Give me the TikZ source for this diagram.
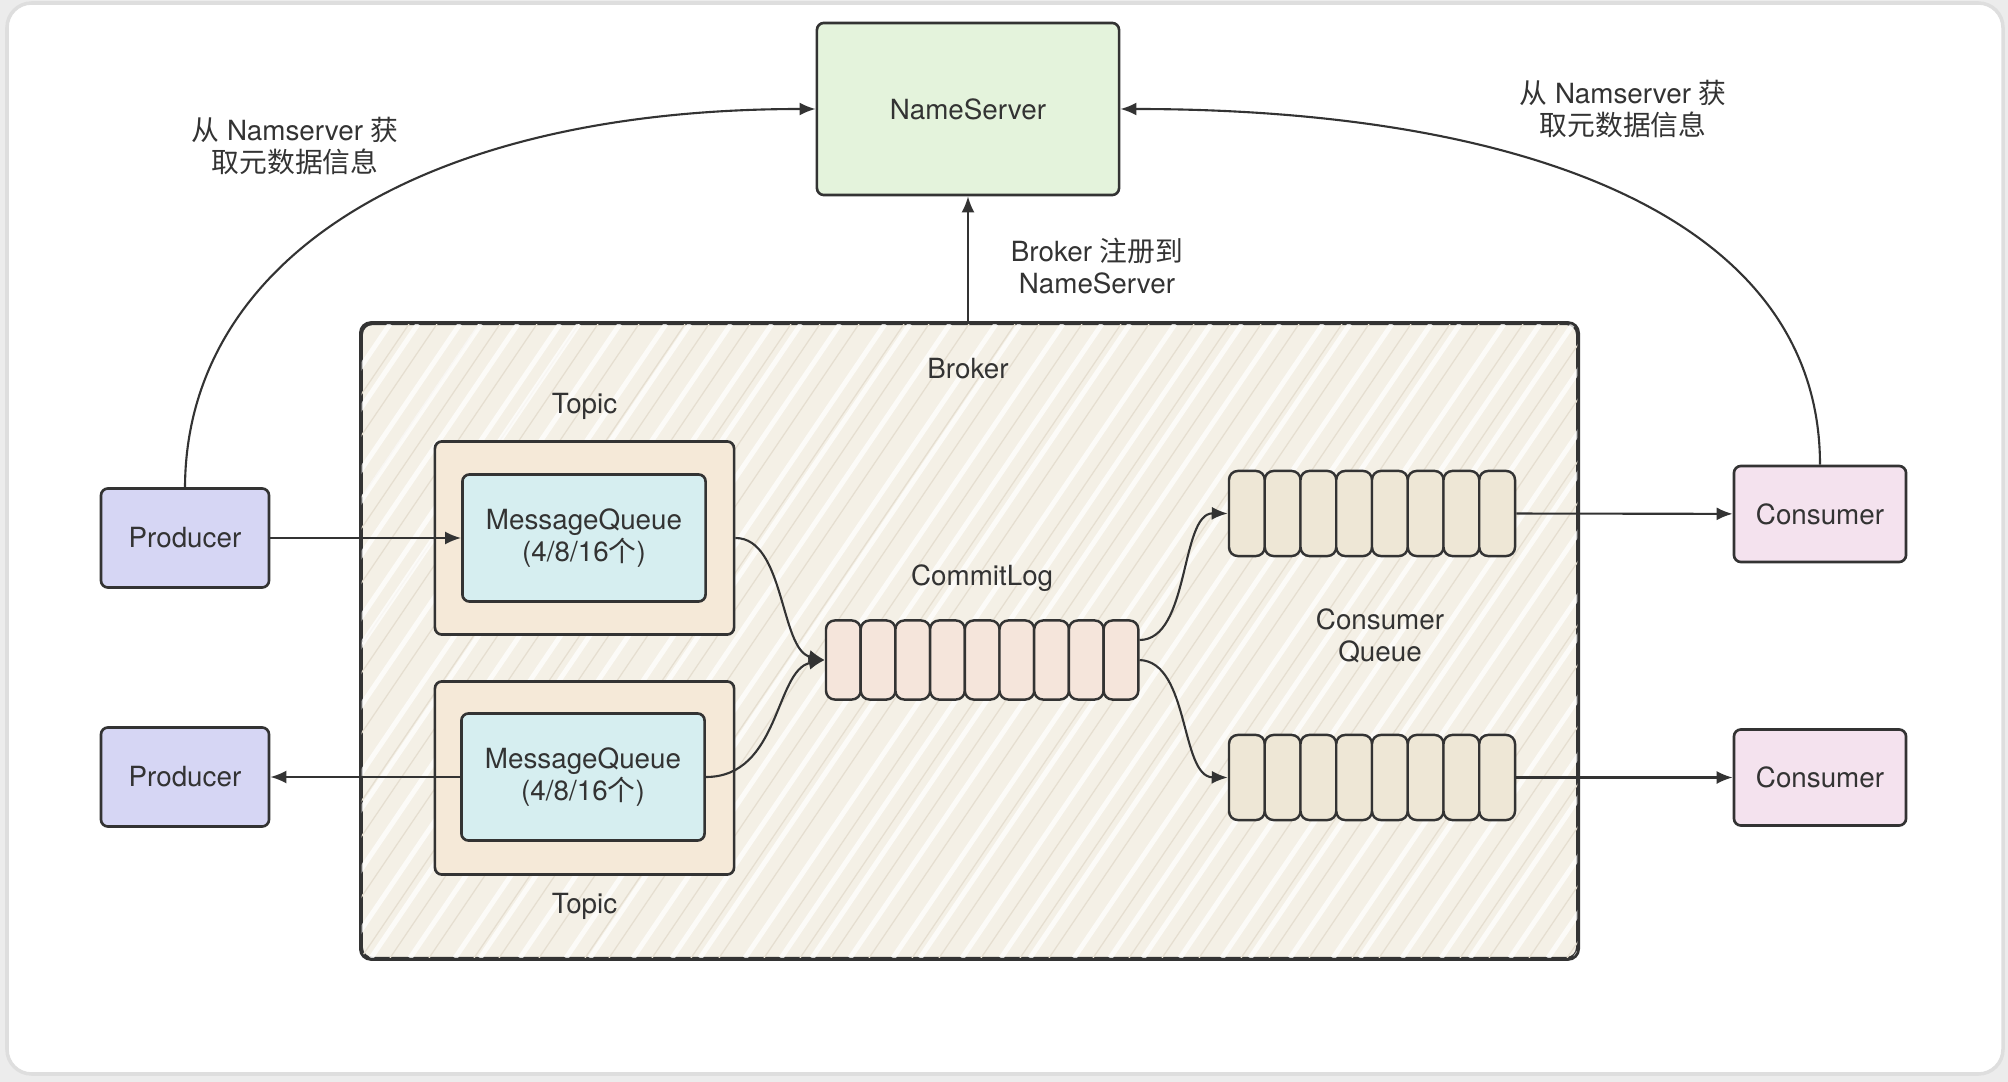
\documentclass[tikz,border=0pt]{standalone}
\usepackage{fontspec}
\setmainfont{TeX Gyre Heros}
\newfontfamily\cjk{Noto Sans CJK SC}
\usetikzlibrary{arrows.meta,positioning,calc}
\definecolor{ink}{HTML}{333333}
\definecolor{nsbg}{HTML}{E4F3DC}
\definecolor{prodbg}{HTML}{D6D6F4}
\definecolor{consbg}{HTML}{F4E2EE}
\definecolor{mqbg}{HTML}{D6EEF0}
\definecolor{topicbg}{HTML}{F5E9D8}
\definecolor{brokerbg}{HTML}{F4F0E6}
\definecolor{logbg}{HTML}{F5E5DB}
\definecolor{cqbg}{HTML}{EEE7D6}
\definecolor{hatch}{HTML}{E5DED0}
\definecolor{pagebg}{HTML}{ECECEC}
\definecolor{cardrule}{HTML}{DEDEDE}

\begin{document}
\begin{tikzpicture}[
  x=0.01cm, y=-0.01cm,
  font=\fontsize{7.9}{9.3}\selectfont, text=ink,
  box/.style={draw=ink, line width=0.75pt, rounded corners=2pt, align=center, inner sep=1pt},
  nsbox/.style={box, fill=nsbg, minimum width=3.02cm, minimum height=1.72cm},
  prodbox/.style={box, fill=prodbg, minimum width=1.68cm, minimum height=0.99cm},
  consbox/.style={box, fill=consbg, minimum width=1.72cm, minimum height=0.96cm},
  topicbox/.style={box, fill=topicbg, minimum width=2.99cm, minimum height=1.93cm},
  mqbox/.style={box, fill=mqbg, minimum width=2.43cm, minimum height=1.27cm},
  brokerbox/.style={box, fill=brokerbg, rounded corners=3pt, minimum width=12.15cm, minimum height=6.34cm},
  cell/.style={draw=ink, line width=0.7pt, rounded corners=2.5pt, inner sep=0pt},
  logcell/.style={cell, fill=logbg, minimum width=0.347cm, minimum height=0.79cm},
  cqcell/.style={cell, fill=cqbg, minimum width=0.3575cm, minimum height=0.85cm},
  lbl/.style={align=center, inner sep=2pt},
  flow/.style={-{Latex[length=1.6mm, width=1.3mm]}, draw=ink, line width=0.6pt},
]

% page and card
\fill[pagebg] (0,0) rectangle (2008,1082);
\draw[cardrule, fill=white, line width=1pt, rounded corners=7pt] (7,3) rectangle (2003,1074);

% broker with its pencil hatching
\node[brokerbox] (broker) at (969.5,641) {};
\begin{scope}
  \clip[rounded corners=3pt] (broker.south west) rectangle (broker.north east);
  \foreach \x in {-40,-12,30,51,88,130,149,190,236,260,301,342,371,410,455,480,
                  520,566,590,633,672,700,745,781,812,850,893,920,962,1001,1030,
                  1074,1110,1143,1180,1222,1250,1290,1333,1360,1402,1441,1470,1510,1548,1575} {
    \draw[white, line width=1.4pt, opacity=0.75] (\x,958) -- ++(430,-634);
    \draw[hatch, line width=0.35pt] (\x+19,958) -- ++(430,-634);
  }
\end{scope}
\draw[ink, line width=0.75pt, rounded corners=3pt] (broker.south west) rectangle (broker.north east);
\node[lbl] (brokerlbl) at (968,369) {Broker};

\node[nsbox] (ns) at (968,109) {NameServer};

\node[prodbox] (prod1) at (185,538) {Producer};
\node[prodbox] (prod2) at (185,777) {Producer};

\node[topicbox] (topic1) at (584.5,538) {};
\node[mqbox] (mq1) at (584,538) {MessageQueue\\(4/8/16{\cjk 个})};
\node[topicbox] (topic2) at (584.5,778) {};
\node[mqbox] (mq2) at (583,777) {MessageQueue\\(4/8/16{\cjk 个})};
\node[lbl, above=1.3mm of topic1] {Topic};
\node[lbl, below=1mm of topic2] {Topic};

% commit log and consumer queues
\foreach \i in {1,...,9}
  \node[logcell] (cl\i) at ({826+(\i-0.5)*34.7},660) {};
\foreach \i in {1,...,8} {
  \node[cqcell] (cqa\i) at ({1229+(\i-0.5)*35.75},513.5) {};
  \node[cqcell] (cqb\i) at ({1229+(\i-0.5)*35.75},777.5) {};
}
\node[lbl, above=2mm of cl5] (cloglbl) {CommitLog};
\node[lbl] (cqlbl) at (1380,636) {Consumer\\Queue};

\node[consbox] (cons1) at (1820,514) {Consumer};
\node[consbox] (cons2) at (1820,777.5) {Consumer};

\node[lbl] (getl) at (295,146) {{\cjk 从} Namserver {\cjk 获}\\{\cjk 取元数据信息}};
\node[lbl] (getr) at (1623,109) {{\cjk 从} Namserver {\cjk 获}\\{\cjk 取元数据信息}};
\node[lbl] (reg) at (1097,266) {Broker {\cjk 注册到}\\NameServer};

% connectors
\draw[flow] (prod1.north) .. controls (186,260) and (420,109) .. (ns.west);
\draw[flow] (cons1.north) .. controls (1820,215) and (1520,109) .. (ns.east);
\draw[flow] (ns.south |- broker.north) -- (ns.south);
\draw[flow] (prod1) -- (mq1);
\draw[flow] (mq2) -- (prod2);
\draw[flow] (topic1.east) .. controls (785,538) and (780,650) .. (cl1.west);
\draw[flow] (mq2.east) .. controls (780,777) and (775,670) .. (cl1.west);
\draw[flow] ([yshift=2mm]cl9.east) .. controls (1190,640) and (1180,513) .. (cqa1.west);
\draw[flow] (cl9.east) .. controls (1190,662) and (1180,777) .. (cqb1.west);
\foreach \a/\b in {cqa8/cons1, cqb8/cons2}
  \draw[flow] (\a) -- (\b);

\end{tikzpicture}
\end{document}
